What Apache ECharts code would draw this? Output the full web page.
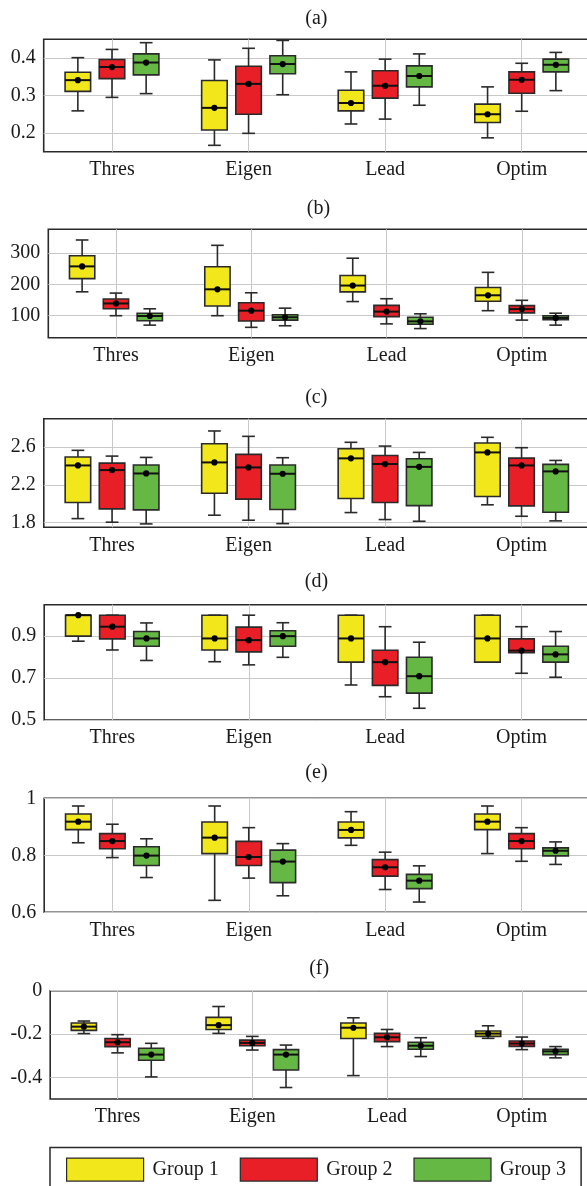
<!DOCTYPE html>
<html><head><meta charset="utf-8">
<script src="https://cdn.jsdelivr.net/npm/echarts@6/dist/echarts.min.js"></script>
<style>html,body{margin:0;padding:0;background:#fff}#c{width:587px;height:1186px}</style>
</head><body><div id="c"></div>
<script>
const categories = ['Thres', 'Eigen', 'Lead', 'Optim'];
const groupNames = ['Group 1', 'Group 2', 'Group 3'];
const groupColors = ['#f2e71b', '#e81f27', '#66b845'];

// each box: [min, Q1, median, Q3, max], one per category
const a_group1 = [[0.259,0.311,0.341,0.362,0.401],[0.167,0.208,0.267,0.340,0.395],[0.224,0.259,0.280,0.314,0.363],[0.187,0.228,0.250,0.277,0.323]];
const a_group2 = [[0.295,0.345,0.376,0.396,0.423],[0.199,0.250,0.331,0.378,0.426],[0.237,0.293,0.326,0.366,0.397],[0.258,0.306,0.342,0.363,0.386]];
const a_group3 = [[0.305,0.355,0.388,0.411,0.441],[0.302,0.358,0.384,0.406,0.447],[0.274,0.323,0.352,0.379,0.411],[0.313,0.363,0.382,0.397,0.415]];

const b_group1 = [[176,218,257,291,341],[100,131,184,256,324],[145,176,196,228,283],[116,146,165,190,238]];
const b_group2 = [[100,122,139,153,172],[63,83,116,141,173],[74,97,113,133,154],[86,109,121,132,149]];
const b_group3 = [[70,84,99,108,122],[68,86,95,103,124],[59,73,82,95,106],[70,87,93,100,108]];

const c_group1 = [[1.842,2.012,2.405,2.494,2.565],[1.878,2.111,2.437,2.635,2.770],[1.906,2.055,2.480,2.582,2.650],[1.988,2.076,2.543,2.642,2.703]];
const c_group2 = [[1.804,1.945,2.356,2.430,2.504],[1.825,2.048,2.384,2.522,2.713],[1.832,2.012,2.420,2.510,2.610],[1.867,1.977,2.405,2.483,2.593]];
const c_group3 = [[1.786,1.935,2.320,2.409,2.490],[1.789,1.938,2.317,2.409,2.487],[1.814,1.980,2.390,2.476,2.543],[1.818,1.910,2.342,2.416,2.458]];

const d_group1 = [[0.876,0.900,1.000,1.000,1.000],[0.778,0.834,0.889,1.000,1.000],[0.667,0.776,0.889,1.000,1.000],[0.776,0.776,0.889,1.000,1.000]];
const d_group2 = [[0.834,0.887,0.945,1.000,1.000],[0.763,0.825,0.881,0.943,1.000],[0.611,0.665,0.776,0.833,0.945],[0.723,0.821,0.831,0.887,0.945]];
const d_group3 = [[0.784,0.852,0.889,0.922,0.963],[0.799,0.852,0.900,0.926,0.964],[0.556,0.628,0.709,0.799,0.871],[0.704,0.776,0.813,0.852,0.922]];

const e_group1 = [[0.844,0.890,0.918,0.945,0.973],[0.642,0.806,0.862,0.917,0.973],[0.835,0.861,0.889,0.917,0.953],[0.806,0.890,0.918,0.945,0.973]];
const e_group2 = [[0.792,0.823,0.850,0.876,0.909],[0.720,0.764,0.794,0.849,0.897],[0.680,0.727,0.758,0.785,0.811],[0.779,0.823,0.850,0.876,0.897]];
const e_group3 = [[0.722,0.764,0.799,0.830,0.858],[0.658,0.704,0.778,0.818,0.841],[0.636,0.683,0.711,0.733,0.763],[0.768,0.798,0.816,0.826,0.847]];

const f_group1 = [[-0.198,-0.183,-0.166,-0.149,-0.140],[-0.197,-0.179,-0.159,-0.123,-0.073],[-0.392,-0.221,-0.171,-0.149,-0.125],[-0.220,-0.211,-0.198,-0.186,-0.162]];
const f_group2 = [[-0.287,-0.258,-0.238,-0.221,-0.203],[-0.274,-0.254,-0.241,-0.228,-0.211],[-0.258,-0.235,-0.215,-0.197,-0.179],[-0.272,-0.257,-0.244,-0.232,-0.214]];
const f_group3 = [[-0.398,-0.321,-0.295,-0.266,-0.243],[-0.447,-0.366,-0.295,-0.272,-0.251],[-0.304,-0.270,-0.254,-0.238,-0.217],[-0.310,-0.295,-0.280,-0.270,-0.258]];

const panelTitles = ['(a)', '(b)', '(c)', '(d)', '(e)', '(f)'];
const a_ticks = [0.2, 0.3, 0.4];
const b_ticks = [100, 200, 300];
const c_ticks = [1.8, 2.2, 2.6];
const d_ticks = [0.5, 0.7, 0.9];
const e_ticks = [0.6, 0.8, 1];
const f_ticks = [-0.4, -0.2, 0];
const yRanges = [[0.15, 0.45], [30, 375], [1.75, 2.9], [0.5, 1.05], [0.6, 1.0], [-0.5, 0]];

const panelData = [
  [a_group1, a_group2, a_group3],
  [b_group1, b_group2, b_group3],
  [c_group1, c_group2, c_group3],
  [d_group1, d_group2, d_group3],
  [e_group1, e_group2, e_group3],
  [f_group1, f_group2, f_group3]
];
const panelTicks = [a_ticks, b_ticks, c_ticks, d_ticks, e_ticks, f_ticks];

// layout (pixels)
const layout = [
  {left: 43.7, top: 39.3, width: 546.3, height: 112.4, titleTop: 9},
  {left: 48.3, top: 229.3, width: 541.2, height: 108.4, titleTop: 199},
  {left: 43.8, top: 418.7, width: 546.0, height: 108.6, titleTop: 387.5},
  {left: 44.2, top: 604.7, width: 545.5, height: 115.3, titleTop: 571.7},
  {left: 44.2, top: 798.3, width: 545.5, height: 114.0, titleTop: 762.5},
  {left: 50.2, top: 990.7, width: 539.0, height: 108.3, titleTop: 959}
];

const FONT = 'Liberation Serif';
const TXT = '#1a1a1a';
const EDGE = '#2a2a2a';

function makeRender(gi, color) {
  return function (params, api) {
    const x = api.value(0);
    const band = api.size([1, 0])[0];
    const cx = api.coord([x, 0])[0] + (gi - 1) * band * 0.25;
    const bw = band * 0.187;
    const cap = bw * 0.5;
    const y = (i) => api.coord([x, api.value(i)])[1];
    const yMin = y(1), yQ1 = y(2), yMed = y(3), yQ3 = y(4), yMax = y(5);
    const ls = {stroke: EDGE, lineWidth: 1.6};
    return {
      type: 'group',
      children: [
        {type: 'line', shape: {x1: cx, y1: yMax, x2: cx, y2: yQ3}, style: ls},
        {type: 'line', shape: {x1: cx, y1: yQ1, x2: cx, y2: yMin}, style: ls},
        {type: 'line', shape: {x1: cx - cap / 2, y1: yMax, x2: cx + cap / 2, y2: yMax}, style: ls},
        {type: 'line', shape: {x1: cx - cap / 2, y1: yMin, x2: cx + cap / 2, y2: yMin}, style: ls},
        {type: 'rect', shape: {x: cx - bw / 2, y: yQ3, width: bw, height: yQ1 - yQ3},
          style: {fill: color, stroke: EDGE, lineWidth: 1.6}},
        {type: 'line', shape: {x1: cx - bw / 2, y1: yMed, x2: cx + bw / 2, y2: yMed},
          style: {stroke: '#111', lineWidth: 2}},
        {type: 'circle', shape: {cx: cx, cy: yMed, r: 3.1}, style: {fill: '#000'}}
      ]
    };
  };
}

const grids = [], xAxes = [], yAxes = [], series = [], titles = [];
panelData.forEach((groups, p) => {
  const L = layout[p];
  grids.push({left: L.left, top: L.top, width: L.width, height: L.height,
    outerBoundsMode: 'none', containLabel: false,
    show: true, borderColor: EDGE, borderWidth: 1.6, backgroundColor: 'transparent'});
  titles.push({text: panelTitles[p], left: L.left + L.width / 2 - 0.5, top: L.titleTop, padding: 0,
    textAlign: 'center',
    textStyle: {fontFamily: FONT, fontSize: 20, fontWeight: 'normal', color: TXT}});
  xAxes.push({type: 'value', gridIndex: p, min: -0.5, max: 3.5,
    axisLine: {show: false},
    axisTick: {show: false, customValues: [0, 1, 2, 3]},
    axisLabel: {customValues: [0, 1, 2, 3], formatter: (v) => categories[Math.round(v)],
      fontFamily: FONT, fontSize: 20, color: TXT, margin: 8},
    splitLine: {show: true, lineStyle: {color: '#c9c9c9', width: 1}}});
  yAxes.push({type: 'value', gridIndex: p, min: yRanges[p][0], max: yRanges[p][1],
    axisLine: {show: false},
    axisTick: {show: false, customValues: panelTicks[p]},
    axisLabel: {customValues: panelTicks[p], fontFamily: FONT, fontSize: 20, color: TXT, margin: 8},
    splitLine: {show: true, lineStyle: {color: '#c9c9c9', width: 1}}});
  groups.forEach((boxes, g) => {
    series.push({
      type: 'custom', name: groupNames[g], xAxisIndex: p, yAxisIndex: p,
      itemStyle: {color: groupColors[g]},
      renderItem: makeRender(g, groupColors[g]),
      encode: {x: 0, y: [1, 2, 3, 4, 5]},
      data: boxes.map((b, i) => [i].concat(b)),
      clip: false, silent: true
    });
  });
});

const chart = echarts.init(document.getElementById('c'), null, {renderer: 'canvas'});
chart.setOption({
  animation: false,
  backgroundColor: '#fff',
  title: titles,
  grid: grids,
  xAxis: xAxes,
  yAxis: yAxes,
  legend: {
    data: groupNames, left: 50, top: 1147.5, icon: 'rect',
    itemWidth: 77, itemHeight: 23, itemGap: 21,
    padding: [10, 15, 10, 16], borderColor: EDGE, borderWidth: 1.5,
    selectedMode: false,
    itemStyle: {borderColor: EDGE, borderWidth: 1.2},
    textStyle: {fontFamily: FONT, fontSize: 20, color: TXT, padding: [0, 0, 0, 4]}
  },
  series: series
});
</script>
</body></html>
